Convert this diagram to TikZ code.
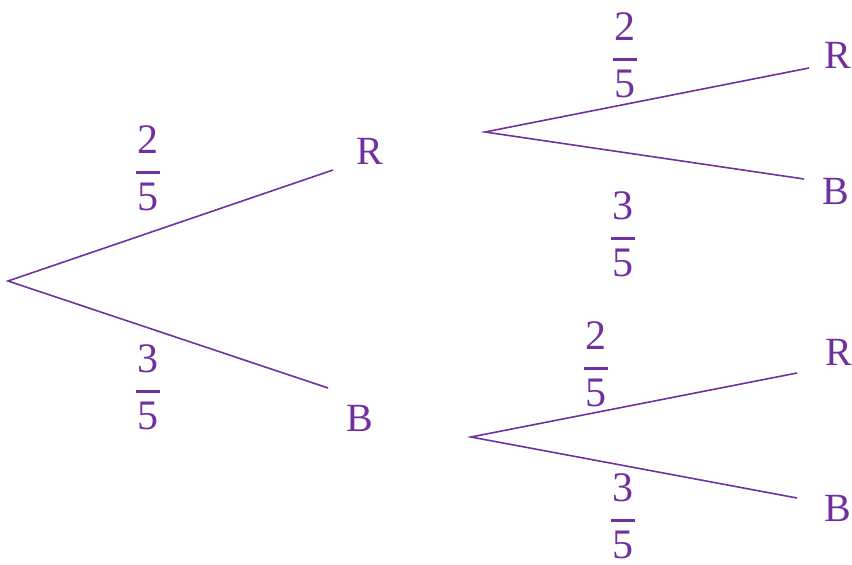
\documentclass[tikz,border=0pt]{standalone}
\usepackage{fontspec}
\setmainfont{Liberation Serif}
\definecolor{pur}{HTML}{7030A0}
\tikzset{
  branch/.style={draw=pur, line width=1.6pt},
  lab/.style={text=pur, font=\fontsize{40}{42}\selectfont, inner sep=0pt, anchor=base},
  digit/.style={text=pur, font=\fontsize{42}{44}\selectfont, inner sep=0pt, anchor=base},
  fbar/.style={fill=pur, minimum width=24pt, minimum height=3pt, inner sep=0pt, outer sep=0pt}
}
\newcommand{\fracnode}[5]{%
  \node[fbar] (#1b) at (#2,#3) {};
  \node[digit] (#1n) at (#2,#3-19) {#4};
  \node[digit] (#1d) at (#2,#3+38) {#5};
}
\begin{document}
\begin{tikzpicture}[x=1pt,y=-1pt]
\useasboundingbox (0,0) rectangle (852,565);
% branch points
\coordinate (root) at (8,281);
\coordinate (rA) at (333,170);
\coordinate (bA) at (328,388);
\coordinate (up) at (485,132);
\coordinate (upR) at (809,68);
\coordinate (upB) at (804,179);
\coordinate (lo) at (471,437);
\coordinate (loR) at (797,373);
\coordinate (loB) at (797,498);
\draw[branch] (rA) -- (root) -- (bA);
\draw[branch] (upR) -- (up) -- (upB);
\draw[branch] (loR) -- (lo) -- (loB);
% outcome labels
\node[lab] (R1) at (370,164) {R};
\node[lab] (B1) at (360,431) {B};
\node[lab] (R2) at (838,68) {R};
\node[lab] (B2) at (836,204) {B};
\node[lab] (R3) at (839,365) {R};
\node[lab] (B3) at (838,521) {B};
% probabilities
\fracnode{f1}{148}{172}{2}{5}
\fracnode{f2}{148}{391}{3}{5}
\fracnode{f3}{625}{59}{2}{5}
\fracnode{f4}{623}{238}{3}{5}
\fracnode{f5}{596}{368}{2}{5}
\fracnode{f6}{623}{520}{3}{5}
\end{tikzpicture}
\end{document}
